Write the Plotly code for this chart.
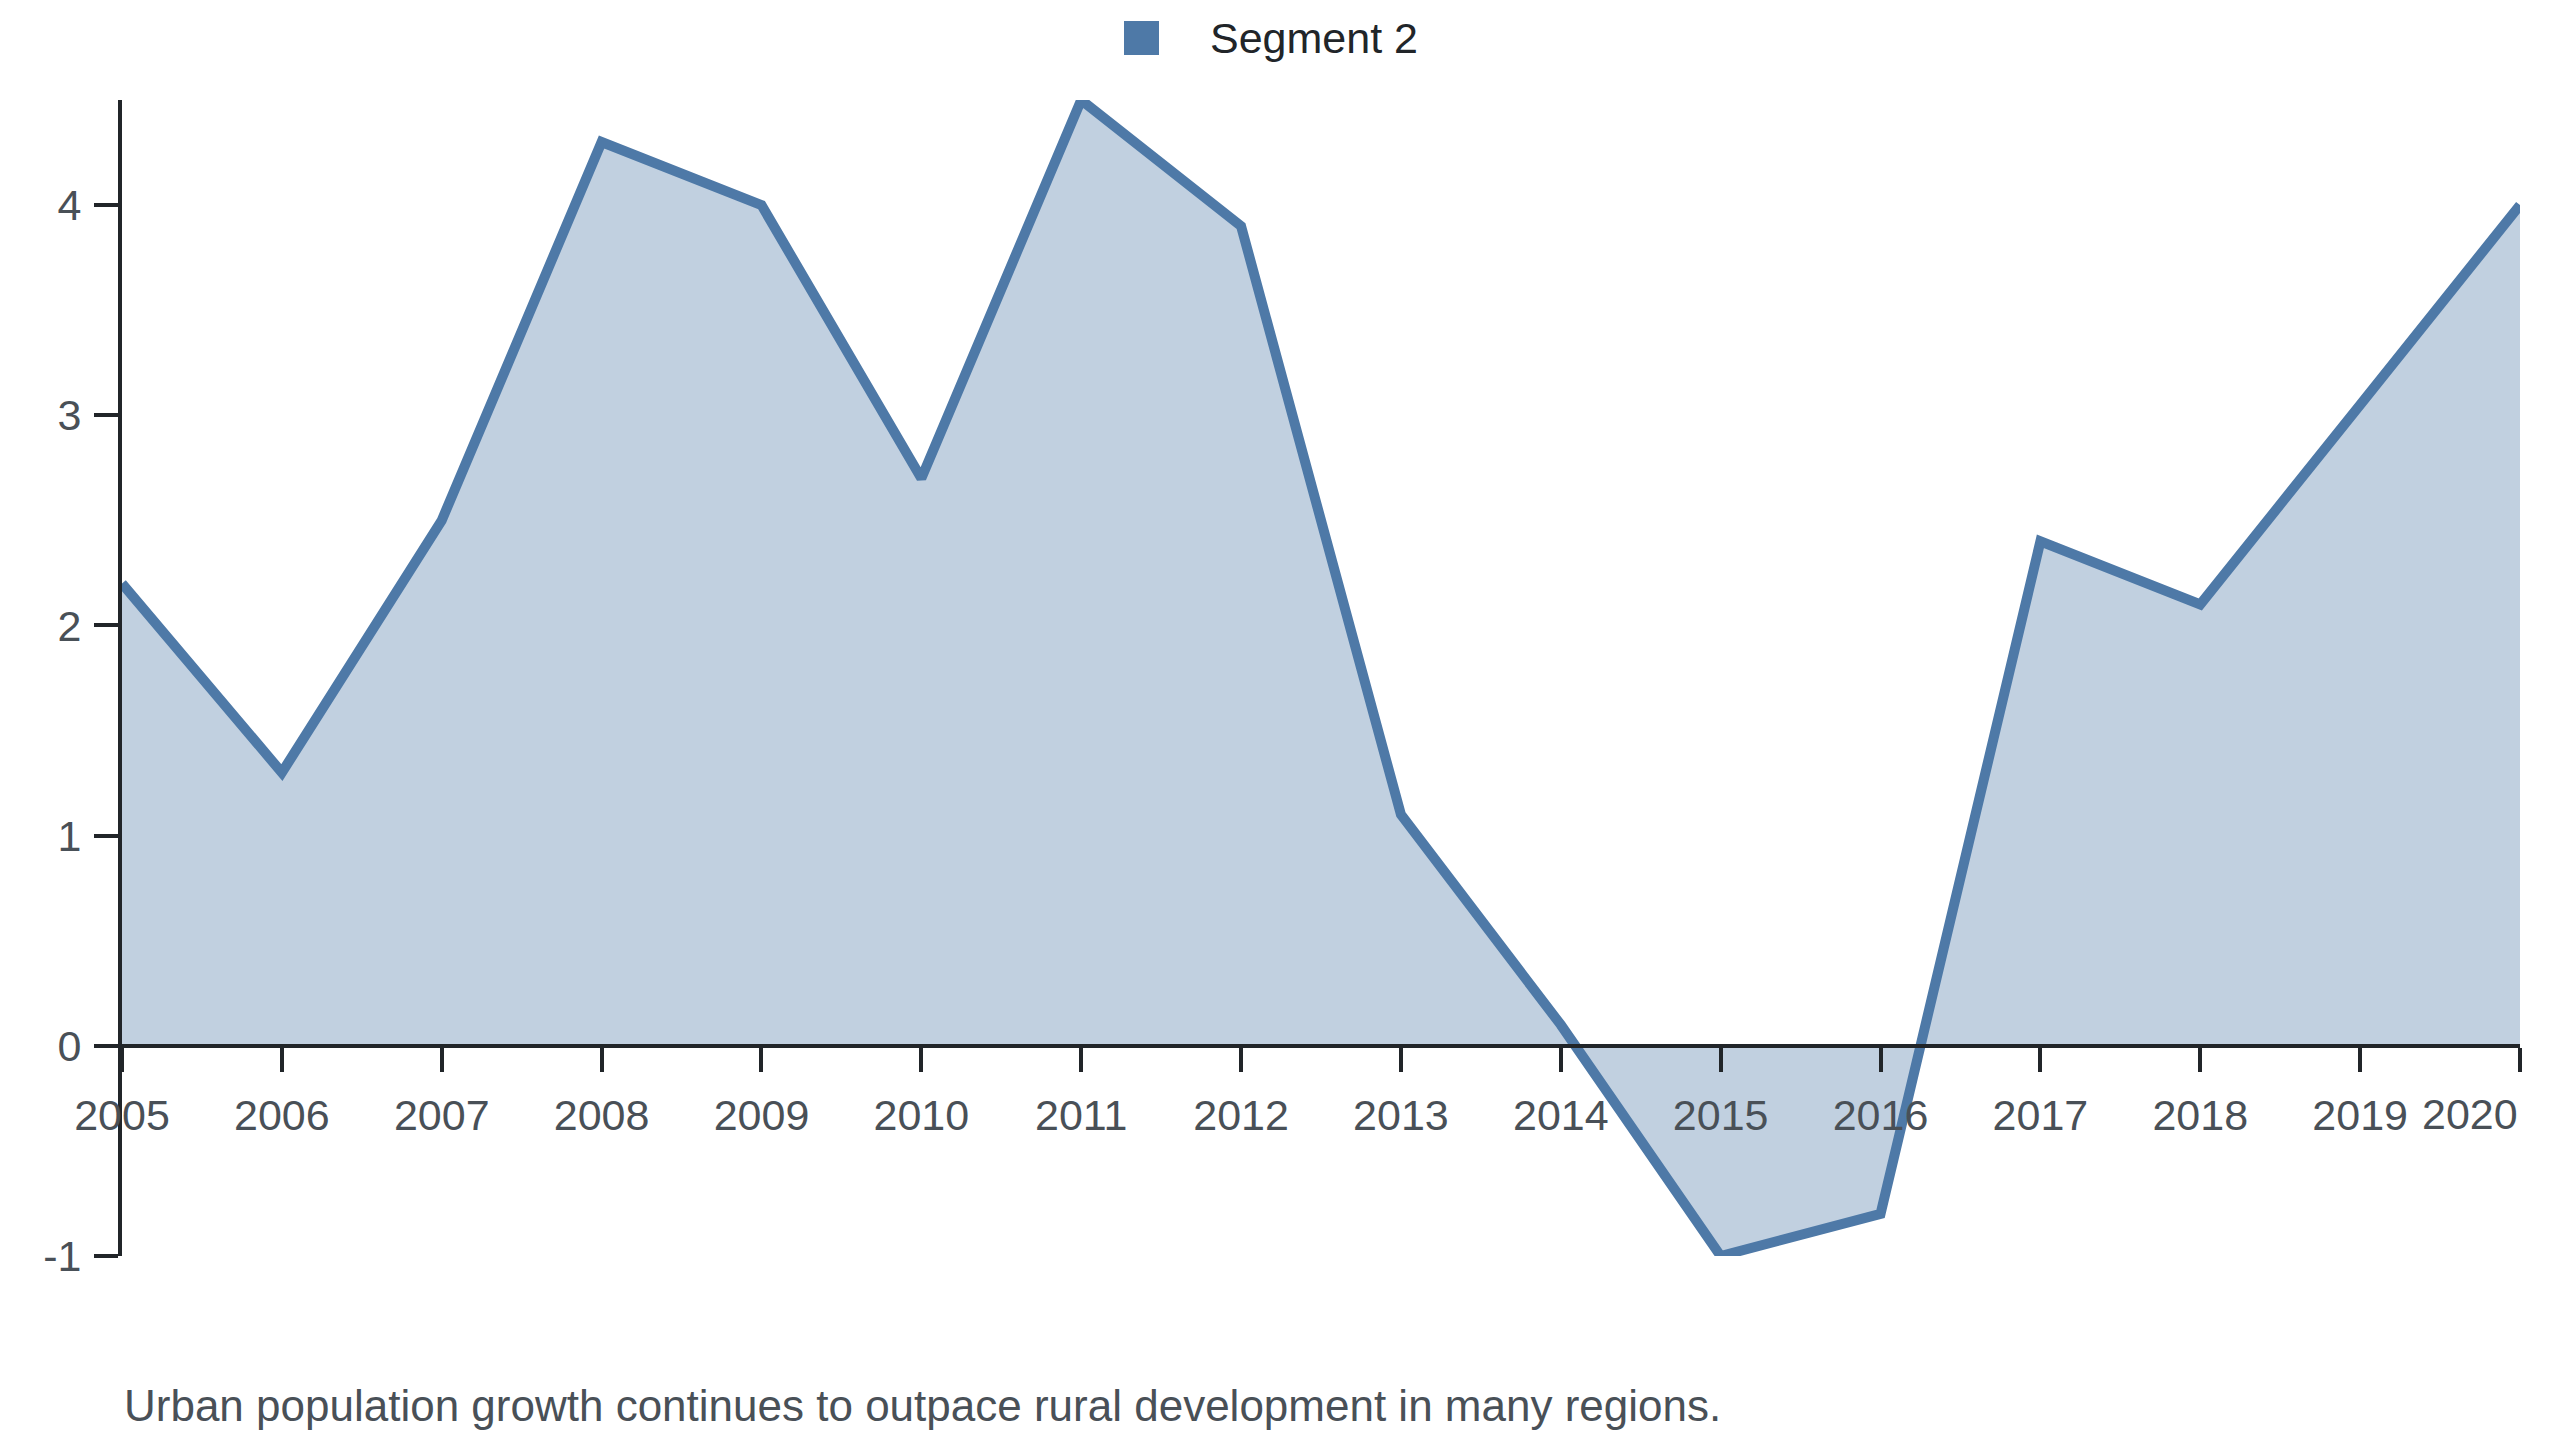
import plotly.graph_objects as go

years = list(range(2005, 2021))
values = [2.2, 1.3, 2.5, 4.3, 4.0, 2.7, 4.5, 3.9, 1.1, 0.1, -1.0, -0.8, 2.4, 2.1, 3.05, 4.0]
series_name = "Segment 2"
caption = "Urban population growth continues to outpace rural development in many regions."
y_ticks = [-1, 0, 1, 2, 3, 4]
y_tick_text = ["-1", "0", "1", "2", "3", "4"]

line_color = "#4e79a7"
fill_color = "rgba(78,121,167,0.35)"
axis_color = "#212529"
tick_color = "#495057"
font_family = "Liberation Sans, Arial, sans-serif"

# page has an 8px body margin, so margins are set to land the plot where the original has it
OFF = 8
W, H = 2560, 1440
ml, mr, mt, mb = 114, 48, 92, 192
pw, ph = W - ml - mr, H - mt - mb


def px_x(x):
    return (x - OFF - ml) / pw


def px_y(y):
    return (H - mb - (y - OFF)) / ph


fig = go.Figure()
fig.add_trace(go.Scatter(x=years, y=values, name=series_name, mode='lines',
                         line=dict(color=line_color, width=10),
                         fill='tozeroy', fillcolor=fill_color, showlegend=False))

# x axis sits on y = 0, last label right-aligned like the original
tick_text = [str(y) for y in years[:-1]] + [""]
fig.update_xaxes(range=[years[0], years[-1]], tickvals=years, ticktext=tick_text,
                 anchor='free', position=1 / 5.5, showgrid=False, zeroline=False,
                 showline=True, linecolor=axis_color, linewidth=4, automargin=False,
                 ticks='outside', ticklen=24, tickwidth=4, tickcolor=axis_color,
                 ticklabelstandoff=7,
                 tickfont=dict(size=43, color=tick_color, family=font_family))
fig.update_yaxes(range=[-1, 4.5], tickvals=y_ticks, ticktext=y_tick_text,
                 showgrid=False, zeroline=False, automargin=False,
                 showline=True, linecolor=axis_color, linewidth=4,
                 ticks='outside', ticklen=24, tickwidth=4, tickcolor=axis_color,
                 ticklabelstandoff=4,
                 tickfont=dict(size=43, color=tick_color, family=font_family))

fig.add_annotation(x=years[-1], y=0, xref='x', yref='y', text=str(years[-1]),
                   showarrow=False, xanchor='right', yanchor='top', yshift=-42,
                   font=dict(size=43, color=tick_color, family=font_family))

# legend drawn by hand so the swatch can be large
fig.add_shape(type='rect', xref='paper', yref='paper',
              x0=px_x(1124), x1=px_x(1159), y0=px_y(55), y1=px_y(21),
              fillcolor=line_color, line=dict(width=0))
fig.add_annotation(x=px_x(1208), y=px_y(38), xref='paper', yref='paper', text=series_name,
                   showarrow=False, xanchor='left', yanchor='middle',
                   font=dict(size=43, color="#212529", family=font_family))

fig.add_annotation(x=px_x(122), y=px_y(1405), xref='paper', yref='paper', text=caption,
                   showarrow=False, xanchor='left', yanchor='middle',
                   font=dict(size=44, color=tick_color, family=font_family))

fig.update_layout(width=W, height=H, margin=dict(l=ml, r=mr, t=mt, b=mb),
                  plot_bgcolor='white', paper_bgcolor='white', showlegend=False,
                  font=dict(family=font_family))

fig.write_html("out.html")
